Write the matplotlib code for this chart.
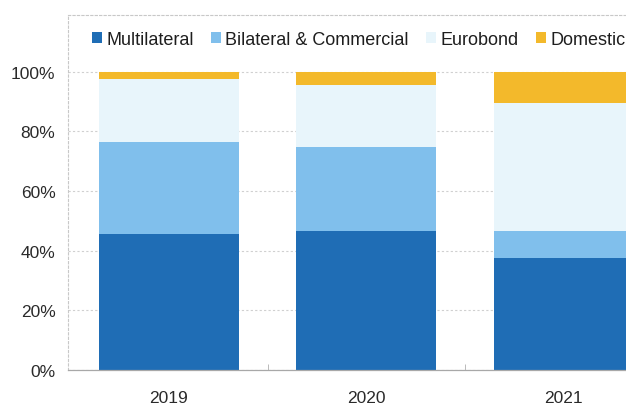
import numpy as np
import matplotlib.pyplot as plt
from matplotlib.patches import Patch

plt.rcParams['font.family'] = ['Liberation Sans', 'DejaVu Sans']

years = ['2019', '2020', '2021']
series = ['Multilateral', 'Bilateral & Commercial', 'Eurobond', 'Domestic']
multilateral = [45.6, 46.5, 37.5]
bilateral = [30.9, 28.2, 9.2]
eurobond = [20.9, 20.9, 42.8]
domestic = [2.6, 4.4, 10.5]
colors = ['#1f6db5', '#80bfec', '#e8f5fb', '#f3b92b']

values = [multilateral, bilateral, eurobond, domestic]

fig = plt.figure(figsize=(6.26, 4.06), dpi=100)
ax = fig.add_axes([0.1086, 0.086, 0.95, 0.8746])

x = np.arange(len(years))
bottom = np.zeros(len(years))
for vals, col in zip(values, colors):
    ax.bar(x, vals, width=0.71, bottom=bottom, color=col, zorder=2)
    bottom += np.array(vals)

ax.set_xlim(-0.51, 2.5)
ax.set_ylim(0, 119)
ax.set_yticks([0, 20, 40, 60, 80, 100])
ax.set_yticklabels([f'{v}%' for v in [0, 20, 40, 60, 80, 100]])
ax.set_xticks(x)
ax.set_xticklabels(years)
ax.set_xticks([0.5, 1.5], minor=True)

ax.grid(axis='y', color='#d0d0d0', linestyle=(0, (2, 2)), linewidth=0.8, zorder=0)
for side in ['left', 'top']:
    ax.spines[side].set_color('#c8c8c8')
    ax.spines[side].set_linestyle((0, (2, 2)))
    ax.spines[side].set_linewidth(0.8)
ax.spines['right'].set_visible(False)
ax.spines['bottom'].set_color('#a8a8a8')
ax.spines['bottom'].set_linewidth(0.9)

ax.tick_params(axis='both', which='major', length=0, labelsize=12.5, labelcolor='#2a2a2a')
ax.tick_params(axis='x', pad=14)
ax.tick_params(axis='y', pad=9)
ax.tick_params(axis='x', which='minor', direction='in', length=4, color='#b0b0b0')

handles = [Patch(facecolor=c, edgecolor='none') for c in colors]
ax.legend(handles, series, loc='upper left', bbox_to_anchor=(0.022, 0.985), ncol=4,
          frameon=False, fontsize=13, handlelength=0.55, handleheight=0.55,
          handletextpad=0.25, columnspacing=0.95, borderaxespad=0.2,
          labelcolor='#1e1e1e')

fig.savefig('out.png', dpi=100)
